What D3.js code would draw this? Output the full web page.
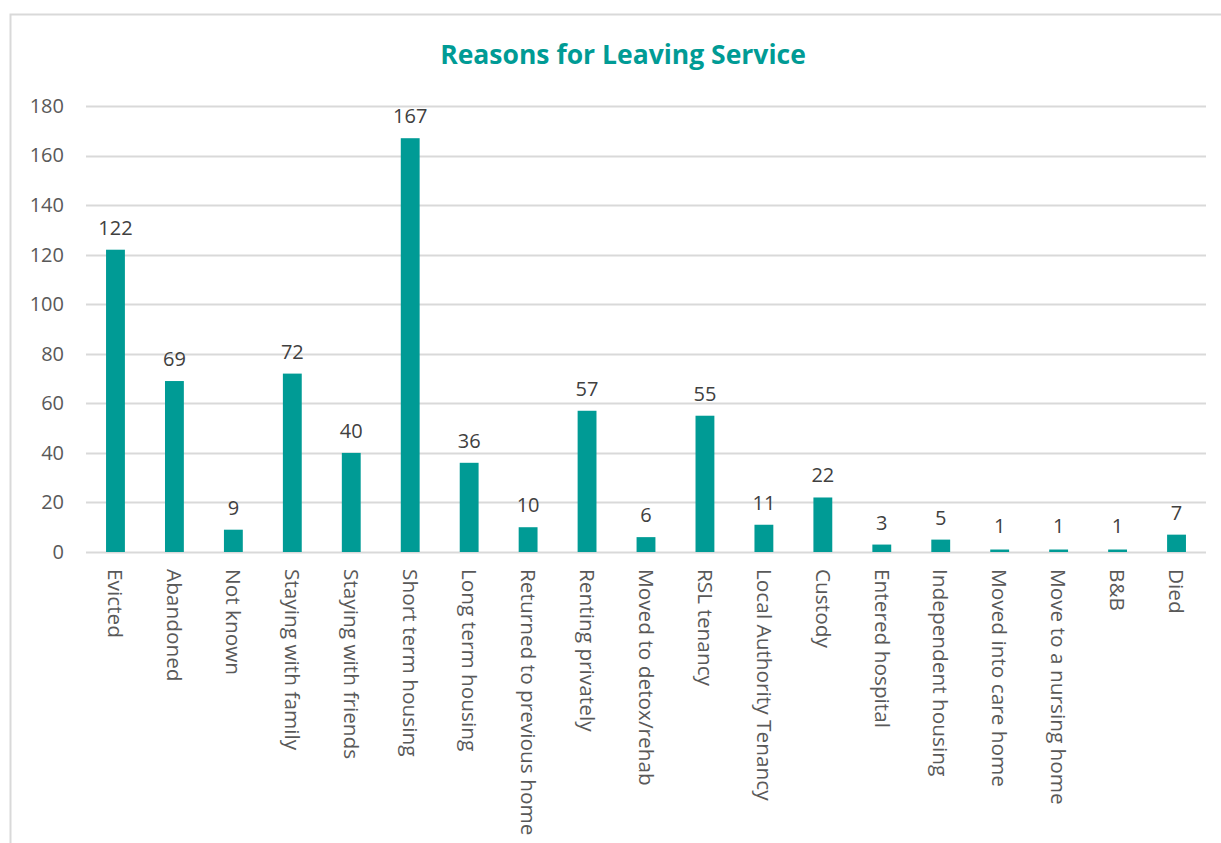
<!DOCTYPE html>
<html>
<head>
<meta charset="utf-8">
<script src="https://cdn.jsdelivr.net/npm/d3@7"></script>
<style>
  body { margin: 0; background: #fff; }
  text { font-family: "Open Sans", sans-serif; }
</style>
</head>
<body>
<script>
let categories = ['Evicted', 'Abandoned', 'Not known', 'Staying with family', 'Staying with friends',
  'Short term housing', 'Long term housing', 'Returned to previous home', 'Renting privately',
  'Moved to detox/rehab', 'RSL tenancy', 'Local Authority Tenancy', 'Custody', 'Entered hospital',
  'Independent housing', 'Moved into care home', 'Move to a nursing home', 'B&B', 'Died'];
let values = [122, 69, 9, 72, 40, 167, 36, 10, 57, 6, 55, 11, 22, 3, 5, 1, 1, 1, 7];
let yTicks = [0, 20, 40, 60, 80, 100, 120, 140, 160, 180];
let title = 'Reasons for Leaving Service';

let width = 1221, height = 843;
let margin = { top: 106, right: 15, bottom: 291, left: 86 };
let teal = '#009B95';

let svg = d3.select('body').append('svg')
    .attr('width', width)
    .attr('height', height);

// chart frame
svg.append('rect')
    .attr('x', 10.5).attr('y', 14.5)
    .attr('width', 1240).attr('height', 900)
    .attr('fill', 'none')
    .attr('stroke', '#d9d9d9')
    .attr('stroke-width', 2);

svg.append('text')
    .attr('x', 623).attr('y', 64)
    .attr('text-anchor', 'middle')
    .attr('fill', teal)
    .style('font-weight', 'bold')
    .style('font-size', '26.5px')
    .text(title);

let x = d3.scaleBand().domain(categories)
    .range([margin.left, width - margin.right])
    .paddingInner(0.68).paddingOuter(0.34);
let y = d3.scaleLinear().domain([0, 180])
    .range([height - margin.bottom, margin.top]);

// gridlines
svg.append('g')
  .selectAll('line')
  .data(yTicks)
  .enter().append('line')
    .attr('x1', margin.left).attr('x2', width - margin.right)
    .attr('y1', d => Math.round(y(d)) + 0.5).attr('y2', d => Math.round(y(d)) + 0.5)
    .attr('stroke', '#d9d9d9')
    .attr('stroke-width', 2);

// y axis labels
let yAxis = d3.axisLeft(y).tickValues(yTicks).tickSize(0).tickPadding(22);
svg.append('g')
    .attr('transform', 'translate(' + margin.left + ',0)')
    .call(yAxis)
    .call(g => g.select('.domain').remove())
    .selectAll('text')
      .style('font-size', '20px')
      .attr('fill', '#595959');

// bars
svg.append('g')
  .selectAll('rect')
  .data(values)
  .enter().append('rect')
    .attr('x', (d, i) => x(categories[i]))
    .attr('width', x.bandwidth())
    .attr('y', d => y(d))
    .attr('height', d => y(0) - y(d))
    .attr('fill', teal);

// value labels
svg.append('g')
  .selectAll('text')
  .data(values)
  .enter().append('text')
    .attr('x', (d, i) => x(categories[i]) + x.bandwidth() / 2)
    .attr('y', d => Math.min(y(d) - 15, 533))
    .attr('text-anchor', 'middle')
    .attr('fill', '#404040')
    .style('font-size', '20px')
    .text(d => d);

// category labels, rotated
let xAxis = d3.axisBottom(x).tickSize(0).tickPadding(0);
svg.append('g')
    .attr('transform', 'translate(0,' + y(0) + ')')
    .call(xAxis)
    .call(g => g.select('.domain').remove())
    .selectAll('text')
      .attr('transform', 'rotate(90)')
      .attr('x', 17).attr('y', 0).attr('dy', '0.35em')
      .style('text-anchor', 'start')
      .style('font-size', '20.8px')
      .attr('fill', '#595959');
</script>
</body>
</html>
